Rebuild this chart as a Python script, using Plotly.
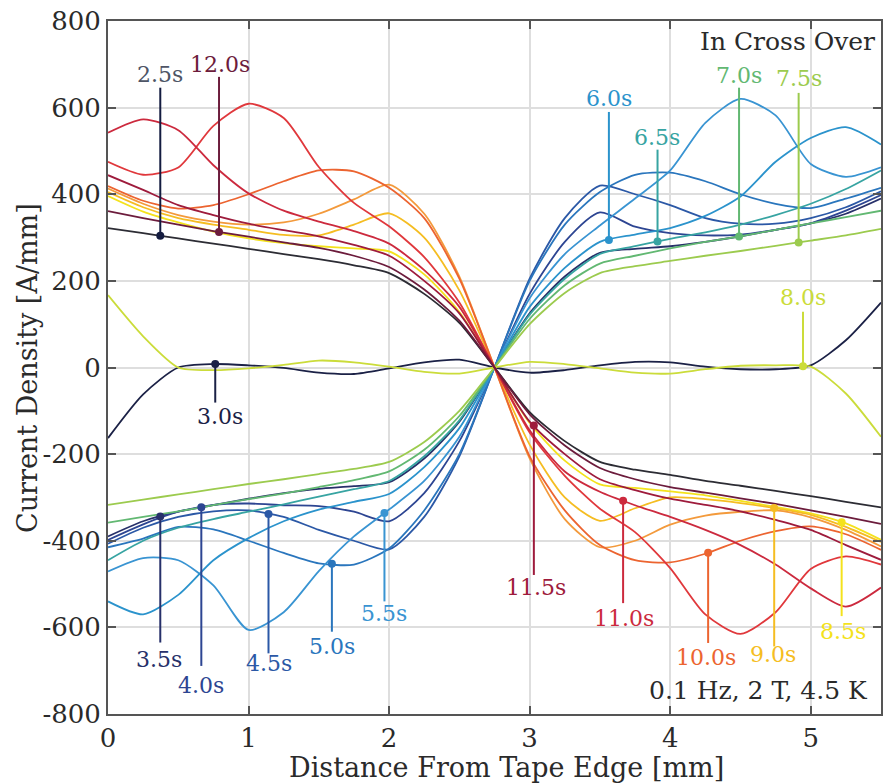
import numpy as np
import plotly.graph_objects as go

# ---------------- data ----------------
x_mm = [0, 0.25, 0.5, 0.75, 1.0, 1.25, 1.5, 1.75, 2.0, 2.25, 2.5, 2.75,
        3.0, 3.25, 3.5, 3.75, 4.0, 4.25, 4.5, 4.75, 5.0, 5.25, 5.5]

j_2_5 = [322, 310, 298, 286, 274, 262, 250, 236, 218, 170, 103, 0, -103, -170, -218, -236, -248, -262, -273, -285, -297, -310, -323]
j_3_0 = [-163, -62, 0, 8, 5, -1, -12, -15, -2, 12, 18, 0, -12, -6, 5, 13, 12, 2, -4, -4, 5, 63, 150]
j_3_5 = [-390, -355, -333, -318, -303, -290, -280, -274, -265, -210, -125, 0, 125, 210, 265, 274, 280, 290, 303, 318, 333, 355, 390]
j_4_0 = [-398, -362, -333, -317, -314, -318, -320, -333, -355, -290, -170, 0, 170, 290, 358, 325, 310, 305, 307, 318, 333, 362, 398]
j_4_5 = [-407, -370, -345, -332, -330, -345, -375, -400, -420, -345, -205, 0, 205, 345, 420, 400, 375, 345, 332, 332, 345, 370, 407]
j_5_0 = [-415, -395, -368, -374, -400, -428, -452, -455, -418, -330, -200, 0, 200, 330, 405, 445, 450, 430, 400, 378, 368, 390, 415]
j_5_5 = [-471, -440, -445, -503, -606, -565, -470, -390, -328, -262, -160, 0, 160, 262, 328, 390, 455, 565, 620, 582, 470, 440, 462]
j_6_0 = [-540, -570, -525, -445, -394, -355, -328, -310, -292, -230, -140, 0, 140, 230, 290, 307, 322, 350, 395, 475, 530, 555, 515]
j_6_5 = [-445, -400, -370, -350, -333, -316, -298, -281, -262, -205, -122, 0, 122, 205, 262, 280, 297, 312, 330, 352, 378, 412, 455]
j_7_0 = [-358, -345, -332, -318, -304, -291, -276, -260, -240, -190, -112, 0, 112, 190, 240, 258, 275, 290, 303, 318, 333, 347, 362]
j_7_5 = [-317, -305, -293, -281, -269, -258, -246, -234, -218, -172, -100, 0, 100, 172, 218, 234, 246, 258, 269, 281, 293, 305, 320]
j_8_0 = [167, 72, 0, -6, -2, 6, 16, 12, 2, -10, -14, 0, 13, 8, -2, -12, -14, -4, 4, 5, 2, -60, -160]
j_8_5 = [396, 360, 335, 314, 298, 287, 280, 275, 268, 215, 128, 0, -128, -215, -270, -278, -286, -295, -308, -322, -337, -360, -398]
j_9_0 = [405, 370, 345, 330, 318, 306, 305, 330, 356, 300, 178, 0, -178, -300, -354, -325, -300, -304, -313, -325, -340, -368, -403]
j_9_5 = [413, 378, 352, 337, 330, 335, 355, 388, 422, 355, 210, 0, -210, -350, -415, -400, -363, -342, -333, -330, -346, -375, -413]
j_10_0 = [419, 385, 367, 375, 400, 430, 455, 453, 415, 345, 205, 0, -205, -330, -410, -445, -450, -430, -400, -378, -367, -385, -421]
j_10_5 = [475, 445, 462, 558, 609, 576, 463, 380, 326, 255, 150, 0, -150, -250, -326, -380, -463, -570, -615, -565, -465, -436, -455]
j_11_0 = [542, 573, 548, 467, 402, 362, 337, 315, 286, 225, 140, 0, -145, -240, -287, -318, -345, -375, -410, -455, -510, -552, -508]
j_11_5 = [444, 410, 375, 352, 332, 317, 303, 283, 258, 200, 125, 0, -125, -200, -258, -283, -303, -317, -332, -352, -375, -410, -444]
j_12_0 = [361, 345, 330, 315, 302, 289, 276, 258, 232, 180, 108, 0, -108, -180, -232, -258, -276, -289, -302, -315, -330, -345, -361]

times = ["2.5s", "3.0s", "3.5s", "4.0s", "4.5s", "5.0s", "5.5s", "6.0s", "6.5s", "7.0s",
         "7.5s", "8.0s", "8.5s", "9.0s", "9.5s", "10.0s", "10.5s", "11.0s", "11.5s", "12.0s"]
series = [j_2_5, j_3_0, j_3_5, j_4_0, j_4_5, j_5_0, j_5_5, j_6_0, j_6_5, j_7_0,
          j_7_5, j_8_0, j_8_5, j_9_0, j_9_5, j_10_0, j_10_5, j_11_0, j_11_5, j_12_0]

x_ticks = [0, 1, 2, 3, 4, 5]
y_ticks = [-800, -600, -400, -200, 0, 200, 400, 600, 800]

# ---------------- styles ----------------
line_colors = {
    "2.5s": "#2c2c34", "3.0s": "#1b2146", "3.5s": "#27306a", "4.0s": "#2d4592",
    "4.5s": "#2b58a6", "5.0s": "#2a76bd", "5.5s": "#3994d2", "6.0s": "#2b93cc",
    "6.5s": "#37a4a2", "7.0s": "#62b872", "7.5s": "#9ccb4e", "8.0s": "#cbdc3a",
    "8.5s": "#f4e21c", "9.0s": "#f5bd22", "9.5s": "#f39a3c", "10.0s": "#ec6430",
    "10.5s": "#e0383c", "11.0s": "#cc2a3e", "11.5s": "#9e1b3c", "12.0s": "#6c1c3c",
}
label_colors = dict(line_colors)
label_colors["2.5s"] = "#4e5566"
leader_colors = dict(line_colors)
leader_colors["2.5s"] = "#141c40"

# label layout: time -> (dot x, leader end y, text x, text y)
labels = [
    ("2.5s", 0.372, 646, 0.37, 677),
    ("12.0s", 0.79, 671, 0.80, 700),
    ("3.0s", 0.763, -81, 0.797, -113),
    ("3.5s", 0.372, -635, 0.366, -675),
    ("4.0s", 0.664, -689, 0.665, -735),
    ("4.5s", 1.142, -660, 1.147, -684),
    ("5.0s", 1.593, -610, 1.597, -643),
    ("5.5s", 1.967, -540, 1.965, -569),
    ("6.0s", 3.564, 590, 3.562, 620),
    ("6.5s", 3.91, 503, 3.905, 531),
    ("7.0s", 4.49, 646, 4.49, 675),
    ("7.5s", 4.914, 634, 4.914, 668),
    ("8.0s", 4.945, 129, 4.943, 161),
    ("8.5s", 5.22, -574, 5.23, -610),
    ("9.0s", 4.74, -644, 4.73, -663),
    ("10.0s", 4.27, -636, 4.258, -669),
    ("11.0s", 3.665, -544, 3.67, -580),
    ("11.5s", 3.03, -479, 3.045, -508),
]

FONT = "DejaVu Serif"
TXT = "#2a2a2a"

fig = go.Figure()

for t, ys in zip(times, series):
    fig.add_trace(go.Scatter(
        x=x_mm, y=ys, mode="lines", name=t,
        line=dict(color=line_colors[t], width=1.8, shape="spline", smoothing=0.7),
        hoverinfo="skip", showlegend=False))

annotations = []
for t, dx, ey, tx, ty in labels:
    ys = series[times.index(t)]
    dy = float(np.interp(dx, x_mm, ys))
    fig.add_trace(go.Scatter(
        x=[dx, dx], y=[dy, ey], mode="lines",
        line=dict(color=leader_colors[t], width=2),
        hoverinfo="skip", showlegend=False))
    fig.add_trace(go.Scatter(
        x=[dx], y=[dy], mode="markers",
        marker=dict(color=leader_colors[t], size=8),
        hoverinfo="skip", showlegend=False))
    annotations.append(dict(
        x=tx, y=ty, xref="x", yref="y", text=t, showarrow=False,
        font=dict(family=FONT, size=22, color=label_colors[t]),
        xanchor="center", yanchor="middle"))

annotations.append(dict(
    x=5.47, y=752, xref="x", yref="y", text="In Cross Over", showarrow=False,
    font=dict(family=FONT, size=25, color=TXT), xanchor="right", yanchor="middle"))
annotations.append(dict(
    x=5.42, y=-745, xref="x", yref="y", text="0.1 Hz, 2 T, 4.5 K", showarrow=False,
    font=dict(family=FONT, size=25, color=TXT), xanchor="right", yanchor="middle"))
annotations.append(dict(
    x=0.516, y=0, xref="paper", yref="paper", yshift=-53, text="Distance From Tape Edge [mm]",
    showarrow=False, font=dict(family=FONT, size=27, color=TXT),
    xanchor="center", yanchor="middle"))
annotations.append(dict(
    x=0, y=0.4993, xref="paper", yref="paper", xshift=-80, text="Current Density [A/mm]",
    showarrow=False, textangle=-90, font=dict(family=FONT, size=27, color=TXT),
    xanchor="center", yanchor="middle"))

axis_common = dict(
    showline=True, linecolor="#555555", linewidth=2, mirror="ticks",
    ticks="inside", ticklen=8, tickwidth=2, tickcolor="#555555",
    showgrid=True, gridcolor="#dedede", gridwidth=2, zeroline=False,
    automargin=False,
    tickfont=dict(family=FONT, size=26, color=TXT))

fig.update_layout(
    width=888, height=784,
    margin=dict(l=107.6, r=6.5, t=20.7, b=69.7, autoexpand=False),
    paper_bgcolor="white", plot_bgcolor="white",
    xaxis=dict(range=[0, 5.5], tickvals=x_ticks, ticktext=[str(v) for v in x_ticks], **axis_common),
    yaxis=dict(range=[-800, 800], tickvals=y_ticks, ticktext=[str(v) for v in y_ticks], **axis_common),
    annotations=annotations,
    showlegend=False,
)

fig.write_html("out.html",
               config={"displayModeBar": False},
               post_script="document.body.style.margin='0px';document.body.style.padding='0px';")
